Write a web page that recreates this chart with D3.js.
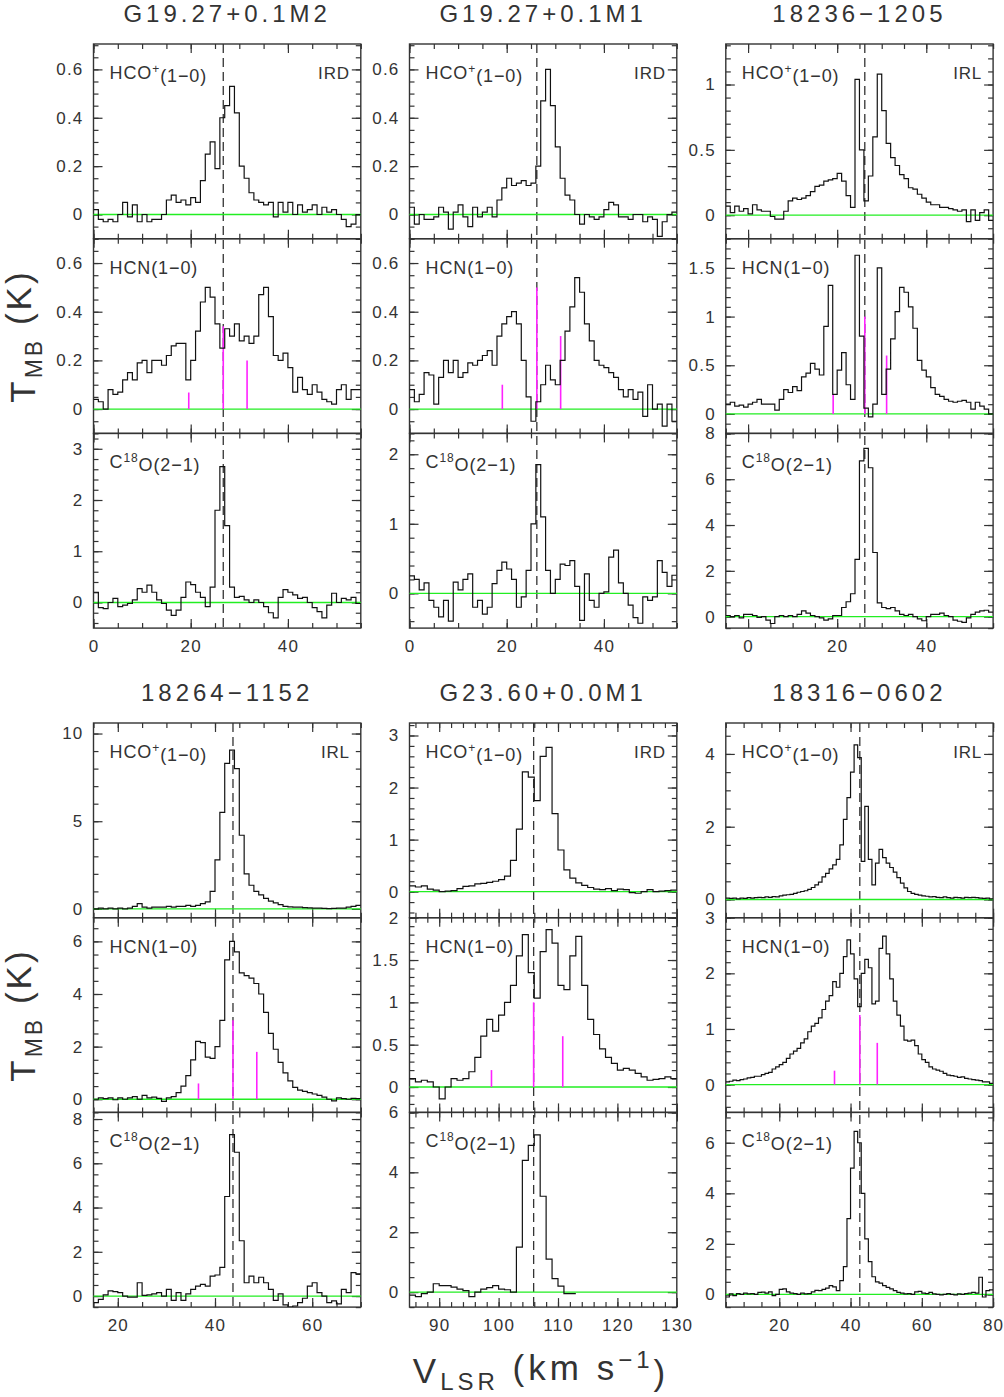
<!DOCTYPE html>
<html>
<head>
<meta charset="utf-8">
<script src="https://cdn.jsdelivr.net/npm/d3@7"></script>
<style>
  body { margin: 0; background: #fff; }
  svg text { font-family: "Liberation Sans", Arial, sans-serif; fill: #333; }
</style>
</head>
<body>
<svg id="chart" width="1004" height="1397"></svg>
<script>
// ---- sources & line metadata ----
const sources = ["G19.27+0.1M2", "G19.27+0.1M1", "18236\u22121205", "18264\u22121152", "G23.60+0.0M1", "18316\u22120602"];
const irClass = ["IRD", "IRD", "IRL", "IRL", "IRD", "IRL"];
const vsys = [26.7, 26.2, 26.2, 43.7, 105.9, 42.6];
const vStart = [0, 0, -5, 15, 85, 5];   // first channel velocity (km/s)
const chanWidth = 1;                     // km/s per channel
// HCN(1-0) hyperfine components: offsets from vsys and marker heights (K)
const hfsOffset = [-7.1, 0, 4.9];
const hfsHeight = [[0.068, 0.34, 0.2], [0.1, 0.5, 0.3], [0.2, 1.0, 0.6], [0.6, 3.0, 1.8], [0.2, 1.0, 0.6], [0.25, 1.25, 0.75]];

// ---- spectra (T_MB in K, one value per channel) ----
const hcoA = [0.02,-0.02,-0.03,-0.02,-0.03,0.0,0.05,-0.01,0.04,-0.03,
  0.0,-0.03,-0.02,-0.02,0.0,0.06,0.08,0.05,0.06,0.04,
  0.07,0.05,0.14,0.25,0.3,0.19,0.4,0.45,0.53,0.42,
  0.2,0.15,0.09,0.06,0.05,0.04,0.05,-0.01,0.05,0.01,
  0.05,0.0,0.04,0.01,0.02,0.04,0.0,0.03,0.01,0.02,
  0.0,-0.02,-0.05,-0.04,0.0];
const hcnA = [0.04,0.03,0.0,0.08,0.06,0.07,0.12,0.15,0.12,0.19,
  0.2,0.15,0.2,0.2,0.18,0.22,0.26,0.27,0.27,0.12,
  0.2,0.32,0.44,0.5,0.46,0.35,0.25,0.33,0.3,0.35,
  0.28,0.3,0.27,0.3,0.47,0.5,0.38,0.22,0.2,0.23,
  0.17,0.07,0.13,0.08,0.06,0.1,0.07,0.04,0.03,0.02,
  0.08,0.1,0.04,0.08,0.08];
const c18oA = [0.2,-0.1,-0.12,0.0,0.08,-0.08,-0.05,-0.02,0.05,0.27,
  0.2,0.34,0.2,0.05,-0.02,-0.15,-0.25,-0.15,0.1,0.4,
  0.35,0.2,0.1,-0.08,0.3,1.8,2.65,1.5,0.3,0.1,
  0.12,0.05,0.0,0.05,0.0,-0.08,-0.2,-0.3,0.1,0.25,
  0.2,0.15,0.08,0.1,0.0,-0.1,-0.18,-0.3,-0.05,0.18,
  0.0,0.08,0.05,0.1,-0.02];

const hcoB = [0.03,-0.04,0.0,-0.02,-0.02,-0.01,0.03,0.01,-0.06,0.01,
  0.04,-0.01,-0.05,0.03,-0.01,0.01,0.03,-0.01,0.06,0.11,
  0.15,0.12,0.13,0.14,0.12,0.13,0.2,0.47,0.6,0.45,
  0.28,0.15,0.08,0.06,0.0,-0.04,0.0,-0.01,-0.02,-0.01,
  0.02,0.05,0.04,-0.01,-0.01,-0.02,0.0,0.0,-0.03,-0.01,
  -0.02,-0.09,-0.03,0.0,0.01];
const hcnB = [0.08,0.03,0.06,0.15,0.14,0.02,0.13,0.2,0.15,0.2,
  0.13,0.15,0.19,0.18,0.2,0.22,0.24,0.18,0.3,0.35,
  0.38,0.4,0.35,0.2,0.05,-0.05,0.03,0.1,0.18,0.12,
  0.1,0.2,0.32,0.42,0.54,0.48,0.35,0.28,0.2,0.18,
  0.17,0.15,0.13,0.08,0.05,0.08,0.04,0.07,-0.03,0.1,
  0.0,0.02,-0.07,0.02,-0.05];
const c18oB = [0.25,0.2,0.05,0.15,-0.1,-0.2,-0.34,-0.1,-0.4,0.16,
  0.05,0.2,0.28,-0.2,-0.1,-0.3,-0.2,0.14,0.33,0.45,
  0.35,0.2,-0.2,-0.05,0.33,1.0,1.85,1.1,0.33,0.0,
  0.2,0.42,0.4,0.47,0.1,-0.39,0.28,-0.1,-0.2,0.0,
  0.02,0.52,0.62,0.15,0.0,-0.17,-0.35,-0.43,-0.05,-0.1,
  -0.05,0.47,0.3,0.1,0.26];

const hcoC = [0.07,0.02,0.07,0.03,0.05, 0.01,0.08,0.04,0.03,0.03,
  -0.01,-0.03,-0.03,0.03,0.11, 0.13,0.12,0.13,0.15,0.18,
  0.22,0.23,0.26,0.27,0.28, 0.32,0.26,0.15,0.06,1.04,
  0.5,0.11,0.3,0.6,1.08, 0.8,0.55,0.44,0.38,0.31,
  0.28,0.21,0.2,0.16,0.13, 0.1,0.08,0.08,0.06,0.06,
  0.05,0.04,0.03,0.04,-0.05, 0.04,-0.04,0.02,0.04,-0.04];
const hcnC = [0.1,0.12,0.08,0.09,0.07, 0.1,0.12,0.15,0.1,0.1,
  0.1,0.04,0.15,0.25,0.22, 0.28,0.24,0.38,0.42,0.52,
  0.46,0.4,0.9,1.32,0.2, 0.45,0.63,0.3,0.15,1.63,
  0.8,0.06,-0.03,0.1,1.5, 0.2,0.46,0.77,1.05,1.3,
  1.25,1.1,0.88,0.55,0.45, 0.38,0.27,0.2,0.18,0.15,
  0.13,0.12,0.13,0.14,0.12, 0.05,0.12,0.08,0.05,0.0];
const c18oC = [0.05,0.0,0.05,-0.05,0.1, 0.1,0.05,-0.03,0.0,-0.15,
  -0.3,0.0,0.05,0.0,0.05, 0.0,0.1,0.25,0.15,0.05,
  0.0,-0.05,-0.15,-0.1,0.05, 0.05,0.4,0.65,1.0,2.5,
  6.8,7.35,6.5,2.8,0.6, 0.4,0.35,0.4,0.25,0.1,
  0.05,0.1,0.0,-0.1,-0.18, 0.0,0.1,0.1,0.15,0.05,
  0.0,-0.15,-0.2,-0.25,-0.05, 0.1,0.2,0.25,0.28,0.2];

const hcoD = [0.0,0.05,0.0,0.05,0.0, 0.05,0.0,0.05,0.15,0.3,
  0.1,0.05,0.1,0.1,0.1, 0.15,0.1,0.15,0.15,0.2,
  0.15,0.2,0.3,0.4,1.0, 2.8,5.5,8.3,9.05,8.0,
  4.2,2.0,1.35,1.0,0.8, 0.6,0.45,0.35,0.25,0.15,
  0.12,0.1,0.1,0.08,0.06, 0.05,0.05,0.03,0.02,0.03,
  0.05,0.05,0.1,0.15,0.2];
const hcnD = [0.0,0.05,0.02,0.05,-0.02, 0.05,0.0,0.05,0.1,0.0,
  0.15,0.05,0.08,0.03,-0.08, 0.05,0.1,0.25,0.5,0.9,
  1.5,2.2,2.15,1.6,1.55, 2.0,3.0,5.3,6.0,5.6,
  4.8,4.7,4.6,4.4,4.0, 3.3,2.5,1.9,1.4,1.0,
  0.7,0.45,0.35,0.3,0.25, 0.2,0.15,0.08,0.0,-0.06,
  0.05,0.02,0.0,0.03,0.02];
const c18oD = [-0.3,-0.15,0.05,0.23,0.2, 0.15,0.0,-0.05,-0.05,0.6,
  0.03,0.05,0.1,0.15,0.0, 0.3,-0.2,0.15,-0.2,0.1,
  0.3,0.45,0.53,0.45,0.9, 0.95,1.3,4.5,7.3,6.5,
  2.5,0.6,0.9,0.6,0.85, 0.6,0.3,-0.2,0.1,-0.4,
  -0.5,-0.45,-0.3,-0.1,0.45, 0.6,0.15,0.0,-0.3,-0.22,
  -0.35,0.3,0.15,1.06,1.0];

const hcoE = [0.11,0.09,0.11,0.05,0.03, 0.0,0.01,0.02,0.06,0.1,
  0.11,0.15,0.16,0.18,0.2, 0.23,0.3,0.6,1.2,2.3,
  2.2,1.75,2.6,2.77,1.5, 0.8,0.42,0.26,0.17,0.12,
  0.08,0.05,0.04,0.06,0.02, 0.05,0.04,-0.02,-0.03,0.0,
  0.04,0.0,0.01,0.02,0.03];
const hcnE = [0.1,0.06,0.08,0.06,0.0, -0.14,0.0,0.1,0.08,0.1,
  0.18,0.35,0.6,0.8,0.66, 0.85,1.0,1.2,1.55,1.8,
  1.35,1.05,1.6,1.86,1.7, 1.2,1.15,1.55,1.78,1.2,
  0.8,0.62,0.45,0.35,0.28, 0.2,0.22,0.2,0.16,0.12,
  0.08,0.09,0.1,0.12,0.1];
const c18oE = [-0.1,-0.15,-0.05,0.0,0.28, 0.22,0.22,0.17,0.1,0.05,
  -0.15,0.0,0.1,0.15,0.22, 0.1,0.08,0.0,1.5,4.4,
  4.9,5.25,3.2,1.1,0.45, 0.2,-0.05,-0.05];

const hcoF = [0.04,0.03,0.04,0.02,0.04, 0.03,0.05,0.04,0.05,0.06,
  0.05,0.07,0.06,0.08,0.07, 0.1,0.12,0.13,0.14,0.17,
  0.2,0.22,0.24,0.28,0.33, 0.4,0.48,0.62,0.72,0.84,
  0.95,1.1,1.5,2.2,2.8, 3.5,4.25,3.9,1.05,2.56,
  1.1,0.4,1.0,1.38,1.15, 1.0,0.88,0.75,0.6,0.45,
  0.32,0.22,0.17,0.14,0.12, 0.1,0.09,0.07,0.08,0.06,
  0.05,0.07,0.05,0.04,0.06, 0.05,0.04,0.06,0.05,0.06,
  0.05,0.04,0.03,0.04,0.02];
const hcnF = [0.05,0.06,0.08,0.07,0.09, 0.1,0.12,0.13,0.15,0.15,
  0.18,0.2,0.22,0.28,0.32, 0.36,0.4,0.47,0.55,0.6,
  0.65,0.75,0.82,0.95,1.05, 1.1,1.2,1.35,1.5,1.6,
  1.85,1.75,2.0,2.3,2.6, 2.35,1.9,1.4,2.0,2.25,
  2.1,1.45,1.5,2.45,2.67, 2.35,1.9,1.5,1.25,1.05,
  0.8,0.78,0.8,0.7,0.55, 0.45,0.4,0.32,0.28,0.26,
  0.24,0.2,0.17,0.16,0.15, 0.13,0.14,0.11,0.1,0.09,
  0.08,0.07,0.05,0.05,0.02];
const c18oF = [-0.1,0.02,-0.05,0.03,0.0, 0.05,0.02,0.03,0.0,0.08,
  0.09,0.05,0.1,-0.05,0.0, 0.2,0.22,0.1,0.05,0.03,
  0.0,0.05,0.02,0.03,0.1, 0.16,0.15,0.2,0.25,0.35,
  0.3,0.15,0.55,1.1,3.0, 5.0,6.45,6.0,4.0,2.2,
  1.3,0.7,0.5,0.45,0.35, 0.28,0.22,0.15,0.08,0.05,
  0.02,0.03,0.0,0.1,0.12, 0.05,0.03,0.08,0.02,0.0,
  -0.02,0.0,0.03,0.0,-0.02, 0.02,0.0,0.03,0.05,0.08,
  0.05,0.68,-0.1,0.15,0.18];

const spectra = [
  [hcoA, hcnA, c18oA], [hcoB, hcnB, c18oB], [hcoC, hcnC, c18oC],
  [hcoD, hcnD, c18oD], [hcoE, hcnE, c18oE], [hcoF, hcnF, c18oF]
];

// ---- axis ranges (velocity, temperature) and tick steps [major, minor] ----
const xRange = [[0, 55], [0, 55], [-5, 55], [15, 70], [85, 130], [5, 80]];
const xStep = [[20, 5], [20, 5], [20, 5], [20, 5], [10, 2], [20, 5]];
const yRange = [
  [[-0.1, 0.705], [-0.1, 0.7], [-0.5, 3.3]],
  [[-0.1, 0.705], [-0.1, 0.7], [-0.5, 2.3]],
  [[-0.18, 1.31], [-0.2, 1.8], [-0.5, 8]],
  [[-0.5, 10.6], [-0.5, 6.9], [-0.5, 8.3]],
  [[-0.5, 3.24], [-0.3, 2], [-0.5, 6]],
  [[-0.5, 4.85], [-0.5, 3], [-0.5, 7.2]]
];
const yStep = [
  [[0.2, 0.05], [0.2, 0.05], [1, 0.2]],
  [[0.2, 0.05], [0.2, 0.05], [1, 0.2]],
  [[0.5, 0.1], [0.5, 0.1], [2, 0.5]],
  [[5, 1], [2, 0.5], [2, 0.5]],
  [[1, 0.2], [0.5, 0.1], [2, 0.5]],
  [[2, 0.5], [1, 0.2], [2, 0.5]]
];

// ---- layout ----
const colX = [93.5, 409.5, 725.8];
const rowY = [44, 723];
const panelW = 267.3, panelH = 194.7;

const svg = d3.select("#chart");
const defs = svg.append("defs");

function ticksFor(dom, step) {
  const a = Math.ceil(dom[0] / step - 1e-6), b = Math.floor(dom[1] / step + 1e-6);
  return d3.range(a, b + 1).map(i => +(i * step).toFixed(4));
}

// text with super/subscripts: parts = [[str, "sup"|"sub"|null], ...]
function richText(sel, parts, small) {
  let shift = 0;
  parts.forEach(([str, kind]) => {
    const target = kind === "sup" ? -0.5 : kind === "sub" ? 0.3 : 0;
    const t = sel.append("tspan").attr("dy", (target - shift) + "em").text(str);
    if (kind) t.attr("font-size", small);
    shift = target;
  });
  return sel;
}

const lineLabels = [
  [["HCO", null], ["+", "sup"], ["(1\u22120)", null]],
  [["HCN(1\u22120)", null]],
  [["C", null], ["18", "sup"], ["O(2\u22121)", null]]
];

sources.forEach((name, s) => {
  const col = s % 3, row = Math.floor(s / 3);
  const x0 = colX[col], top = rowY[row];
  const x = d3.scaleLinear().domain(xRange[s]).range([x0, x0 + panelW]);

  svg.append("text")
    .attr("x", x0 + panelW / 2).attr("y", top - 22)
    .attr("text-anchor", "middle")
    .attr("font-size", 24).attr("letter-spacing", 4)
    .text(name);

  const frames = svg.append("g");

  spectra[s].forEach((vals, k) => {
    const py = top + k * panelH;
    const y = d3.scaleLinear().domain(yRange[s][k]).range([py + panelH, py]);
    const g = svg.append("g");

    const clipId = "clip" + s + "_" + k;
    defs.append("clipPath").attr("id", clipId).append("rect")
      .attr("x", x0).attr("y", py).attr("width", panelW).attr("height", panelH);

    // zero baseline
    g.append("line")
      .attr("x1", x0).attr("x2", x0 + panelW)
      .attr("y1", y(0)).attr("y2", y(0))
      .attr("stroke", "#22ee22").attr("stroke-width", 1.3);

    // HCN hyperfine markers
    if (k === 1) {
      g.append("g").selectAll("line")
        .data(hfsOffset.map((o, j) => ({ v: vsys[s] + o, h: hfsHeight[s][j] })))
        .enter().append("line")
        .attr("x1", d => x(d.v)).attr("x2", d => x(d.v))
        .attr("y1", y(0)).attr("y2", d => y(d.h))
        .attr("stroke", "#ff22ff").attr("stroke-width", 1.6);
    }

    // spectrum as histogram
    const pts = vals.map((t, i) => [vStart[s] + i * chanWidth, t]);
    pts.push([vStart[s] + vals.length * chanWidth, vals[vals.length - 1]]);
    g.append("path")
      .attr("clip-path", `url(#${clipId})`)
      .attr("d", d3.line().x(d => x(d[0])).y(d => y(d[1])).curve(d3.curveStepAfter)(pts))
      .attr("fill", "none").attr("stroke", "#111").attr("stroke-width", 1.2);

    // label
    richText(g.append("text")
      .attr("x", x0 + 16).attr("y", py + 35)
      .attr("font-size", 18).attr("letter-spacing", 0.9), lineLabels[k], 12);
    if (k === 0) {
      g.append("text")
        .attr("x", x0 + panelW - 11).attr("y", py + 35)
        .attr("text-anchor", "end").attr("font-size", 17).attr("letter-spacing", 0.8)
        .text(irClass[s]);
    }

    // axes: ticks inward on all four sides
    const xMaj = ticksFor(xRange[s], xStep[s][0]), xMin = ticksFor(xRange[s], xStep[s][1]);
    const yMaj = ticksFor(yRange[s][k], yStep[s][k][0]), yMin = ticksFor(yRange[s][k], yStep[s][k][1]);
    const ax = frames.append("g");
    const addAxis = (axis, tx, ty) => {
      ax.append("g").attr("transform", `translate(${tx},${ty})`).call(axis)
        .call(a => a.select(".domain").remove())
        .call(a => a.selectAll("line").attr("stroke", "#333").attr("stroke-width", 1.2));
    };
    addAxis(d3.axisBottom(x).tickValues(xMin).tickSize(-5).tickFormat(""), 0, py + panelH);
    addAxis(d3.axisTop(x).tickValues(xMin).tickSize(-5).tickFormat(""), 0, py);
    addAxis(d3.axisBottom(x).tickValues(xMaj).tickSize(-9).tickPadding(12)
      .tickFormat(k === 2 ? d => String(d) : ""), 0, py + panelH);
    addAxis(d3.axisTop(x).tickValues(xMaj).tickSize(-9).tickFormat(""), 0, py);
    addAxis(d3.axisLeft(y).tickValues(yMin).tickSize(-5).tickFormat(""), x0, 0);
    addAxis(d3.axisRight(y).tickValues(yMin).tickSize(-5).tickFormat(""), x0 + panelW, 0);
    addAxis(d3.axisLeft(y).tickValues(yMaj).tickSize(-9).tickPadding(10).tickFormat(d => String(d)), x0, 0);
    addAxis(d3.axisRight(y).tickValues(yMaj).tickSize(-9).tickFormat(""), x0 + panelW, 0);
    ax.selectAll("text")
      .attr("font-size", 17).attr("letter-spacing", 1.2)
      .attr("font-family", "Liberation Sans, Arial, sans-serif").attr("fill", "#333");

    ax.append("rect")
      .attr("x", x0).attr("y", py).attr("width", panelW).attr("height", panelH)
      .attr("fill", "none").attr("stroke", "#333").attr("stroke-width", 1.4);
  });

  // systemic velocity through all three panels
  svg.insert("line", () => frames.node())
    .attr("x1", x(vsys[s])).attr("x2", x(vsys[s]))
    .attr("y1", top).attr("y2", top + 3 * panelH)
    .attr("stroke", "#333").attr("stroke-width", 1.3)
    .attr("stroke-dasharray", "9,5");
});

// ---- axis titles ----
rowY.forEach(top => {
  richText(svg.append("text")
    .attr("transform", `translate(35,${top + 1.5 * panelH}) rotate(-90)`)
    .attr("text-anchor", "middle")
    .attr("font-size", 35).attr("letter-spacing", 3),
    [["T", null], ["MB", "sub"], [" (K)", null]], 23);
});
richText(svg.append("text")
  .attr("x", 541).attr("y", 1383)
  .attr("text-anchor", "middle")
  .attr("font-size", 35).attr("letter-spacing", 4),
  [["V", null], ["LSR", "sub"], [" (km s", null], ["\u22121", "sup"], [")", null]], 24);
</script>
</body>
</html>
